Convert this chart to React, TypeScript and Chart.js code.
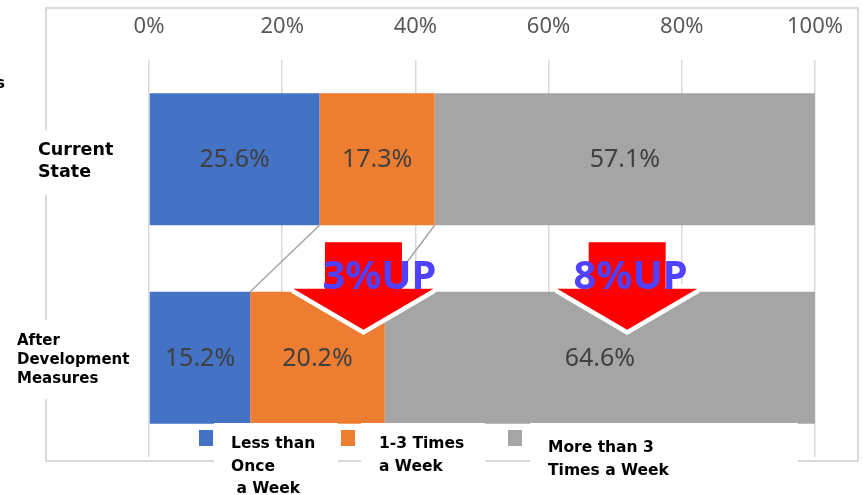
import React, { useEffect, useRef } from 'react';
import { Chart, registerables } from 'chart.js';

Chart.register(...registerables);

// ---- data ----
const categories = [['Current', 'State'], ['After', 'Development', 'Measures']];
const seriesLabels = ['Less than\nOnce\n a Week', '1-3 Times\na Week', 'More than 3\nTimes a Week'];
const lessThanOnce = [25.6, 15.2];
const oneToThreeTimes = [17.3, 20.2];
const moreThanThree = [57.1, 64.6];
const tickValues = [0, 20, 40, 60, 80, 100];
const arrowTips = [32.2, 71.8];
const arrowTexts = ['3%UP', '8%UP'];
const arrowTextX = [34.6, 72.3];

const palette = ['#4472C4', '#ED7D31', '#A5A5A5'];

const overlay = {
  id: 'overlay',
  beforeDraw(chart: any) {
    const { ctx, width, height } = chart;
    ctx.save();
    ctx.fillStyle = '#ffffff';
    ctx.fillRect(0, 0, width, height);
    ctx.strokeStyle = '#d9d9d9';
    ctx.lineWidth = 2;
    ctx.strokeRect(46, 8, 812, 453);
    ctx.restore();
  },
  afterDatasetsDraw(chart: any) {
    const ctx = chart.ctx;
    const xs = chart.scales.x;
    ctx.save();

    // data labels
    ctx.font = '25px "Noto Sans"';
    ctx.fillStyle = '#404040';
    ctx.textAlign = 'center';
    ctx.textBaseline = 'middle';
    chart.data.datasets.forEach((ds: any, di: number) => {
      const meta = chart.getDatasetMeta(di);
      meta.data.forEach((el: any, i: number) => {
        const p = el.getProps(['x', 'y', 'base'], true);
        ctx.fillText(ds.data[i].toFixed(1) + '%', (p.x + p.base) / 2, p.y + 1);
      });
    });

    // connector lines
    ctx.strokeStyle = '#A6A6A6';
    ctx.lineWidth = 1.5;
    for (let di = 0; di < 2; di++) {
      const meta = chart.getDatasetMeta(di);
      const a = meta.data[0].getProps(['x', 'y', 'height'], true);
      const b = meta.data[1].getProps(['x', 'y', 'height'], true);
      ctx.beginPath();
      ctx.moveTo(a.x, a.y + a.height / 2);
      ctx.lineTo(b.x, b.y - b.height / 2);
      ctx.stroke();
    }

    // arrows
    const m0 = chart.getDatasetMeta(0);
    const cur = m0.data[0].getProps(['y', 'height'], true);
    const aft = m0.data[1].getProps(['y', 'height'], true);
    const curBottom = cur.y + cur.height / 2;
    const aftTop = aft.y - aft.height / 2;
    arrowTips.forEach((v, k) => {
      const cx = xs.getPixelForValue(v);
      const top = curBottom + 17;
      const hb = aftTop - 3;
      const tip = aftTop + 38;
      const sw = 38.5;
      const hw = 70;
      ctx.beginPath();
      ctx.moveTo(cx - sw, top);
      ctx.lineTo(cx + sw, top);
      ctx.lineTo(cx + sw, hb);
      ctx.lineTo(cx + hw, hb);
      ctx.lineTo(cx, tip);
      ctx.lineTo(cx - hw, hb);
      ctx.lineTo(cx - sw, hb);
      ctx.closePath();
      ctx.strokeStyle = '#ffffff';
      ctx.lineWidth = 9;
      ctx.lineJoin = 'miter';
      ctx.miterLimit = 2;
      ctx.stroke();
      ctx.fillStyle = '#FF0000';
      ctx.fill();
      ctx.font = 'bold 40px "Noto Sans"';
      ctx.fillStyle = '#5040FF';
      ctx.textAlign = 'center';
      ctx.textBaseline = 'alphabetic';
      ctx.fillText(arrowTexts[k], xs.getPixelForValue(arrowTextX[k]), hb);
    });

    // category labels with white boxes
    const ys = chart.scales.y;
    const catStyle = [
      { x: 38, size: 17.5, lh: 22, first: -4, boxTop: -29, boxBottom: 36 },
      { x: 17, size: 15, lh: 19, first: -12.5, boxTop: -37.5, boxBottom: 41.5 },
    ];
    categories.forEach((lines, i) => {
      const cy = ys.getPixelForValue(i);
      const s = catStyle[i];
      ctx.fillStyle = '#ffffff';
      ctx.fillRect(0, cy + s.boxTop, 148, s.boxBottom - s.boxTop);
      ctx.fillStyle = '#000000';
      ctx.font = `bold ${s.size}px "DejaVu Sans"`;
      ctx.textAlign = 'left';
      ctx.textBaseline = 'alphabetic';
      lines.forEach((ln, j) => ctx.fillText(ln, s.x, cy + s.first + j * s.lh));
    });

    // stray label fragment at far left
    ctx.font = 'bold 15px "DejaVu Sans"';
    ctx.fillStyle = '#000000';
    ctx.fillText('s', -4, 88);

    // legend
    const legendPos = [
      { sq: 199, box: [214, 338, 495], tx: 231, base: 448 },
      { sq: 341, box: [361, 485, 476], tx: 379, base: 448 },
      { sq: 508, box: [530, 798, 470], tx: 548, base: 452 },
    ];
    chart.data.datasets.forEach((ds: any, di: number) => {
      const lp = legendPos[di];
      ctx.fillStyle = ds.backgroundColor;
      ctx.fillRect(lp.sq, 430, 14, 16);
      ctx.fillStyle = '#ffffff';
      ctx.fillRect(lp.box[0], 423, lp.box[1] - lp.box[0], lp.box[2] - 423);
      ctx.fillStyle = '#000000';
      ctx.font = 'bold 15.5px "DejaVu Sans"';
      ctx.textAlign = 'left';
      String(ds.label).split('\n').forEach((ln: string, j: number) => {
        ctx.fillText(ln, lp.tx, lp.base + j * 22.5);
      });
    });

    ctx.restore();
  },
};

export default function App() {
  const ref = useRef<HTMLCanvasElement | null>(null);
  useEffect(() => {
    document.body.style.margin = '0';
    const canvas = ref.current;
    if (!canvas) return;
    const chart = new Chart(canvas, {
      type: 'bar',
      data: {
        labels: categories,
        datasets: [
          { label: seriesLabels[0], data: lessThanOnce, backgroundColor: palette[0] },
          { label: seriesLabels[1], data: oneToThreeTimes, backgroundColor: palette[1] },
          { label: seriesLabels[2], data: moreThanThree, backgroundColor: palette[2] },
        ],
      },
      options: {
        indexAxis: 'y',
        responsive: false,
        animation: false,
        layout: { padding: { left: 149, right: 44, top: 0, bottom: 38 } },
        datasets: { bar: { categoryPercentage: 1, barPercentage: 0.665, borderWidth: 0 } },
        plugins: { legend: { display: false }, tooltip: { enabled: false } },
        scales: {
          x: {
            position: 'top',
            stacked: true,
            min: 0,
            max: 100,
            afterBuildTicks: (scale: any) => {
              scale.ticks = tickValues.map((v) => ({ value: v }));
            },
            afterFit: (scale: any) => {
              scale.height = 60;
            },
            ticks: {
              padding: 20,
              color: '#595959',
              font: { family: '"Noto Sans"', size: 22 },
              callback: (v: any) => `${v}%`,
            },
            grid: { color: '#d9d9d9', lineWidth: 1.5, drawTicks: false },
            border: { display: false },
          },
          y: { stacked: true, display: false },
        },
      },
      plugins: [overlay],
    } as any);
    return () => chart.destroy();
  }, []);
  return <canvas ref={ref} width={863} height={495} style={{ display: 'block' }} />;
}
